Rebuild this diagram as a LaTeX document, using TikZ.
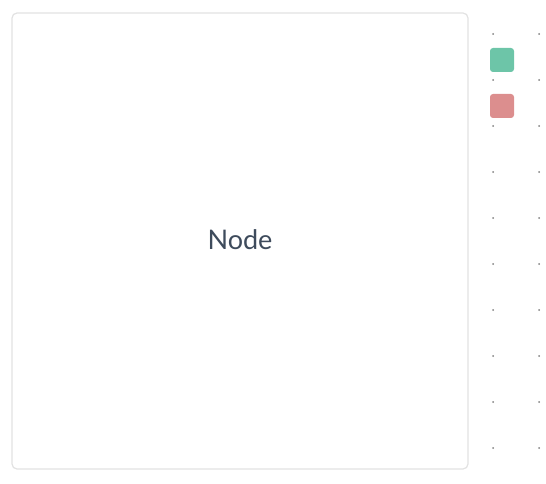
\documentclass[tikz,border=0pt]{standalone}
\usepackage{fontspec}
\setmainfont{Lato}
\usetikzlibrary{positioning}
\definecolor{boxline}{HTML}{E2E2E2}
\definecolor{ink}{HTML}{3E4B5C}
\definecolor{mint}{HTML}{6DC5A8}
\definecolor{rose}{HTML}{DC8E8E}
\definecolor{dotgray}{HTML}{7F7F7F}

\begin{document}
\begin{tikzpicture}[x=1pt,y=-1pt,
   panel/.style={draw=boxline,line width=1.2pt,rounded corners=5pt,fill=white,minimum width=456pt,minimum height=456pt,inner sep=0pt},
   swatch/.style={rounded corners=3pt,minimum size=24pt,inner sep=0pt},
   gdot/.style={fill=dotgray,circle,inner sep=0pt,minimum size=2pt}
  ]
 \useasboundingbox (0,0) rectangle (546,484);

 % dot grid
 \foreach \i in {0,...,9} {
  \node[gdot] (a\i) at (493,34+46*\i) {};
  \node[gdot] (b\i) at (539,34+46*\i) {};
 }

 \node[panel] (box) at (240,241) {};
 \node[text=ink,font=\fontsize{27}{32}\selectfont] (label) at (240,240) {Node};

 \node[swatch,fill=mint] (green) at (502,60) {};
 \node[swatch,fill=rose] (red) at (502,106) {};

\end{tikzpicture}
\end{document}
